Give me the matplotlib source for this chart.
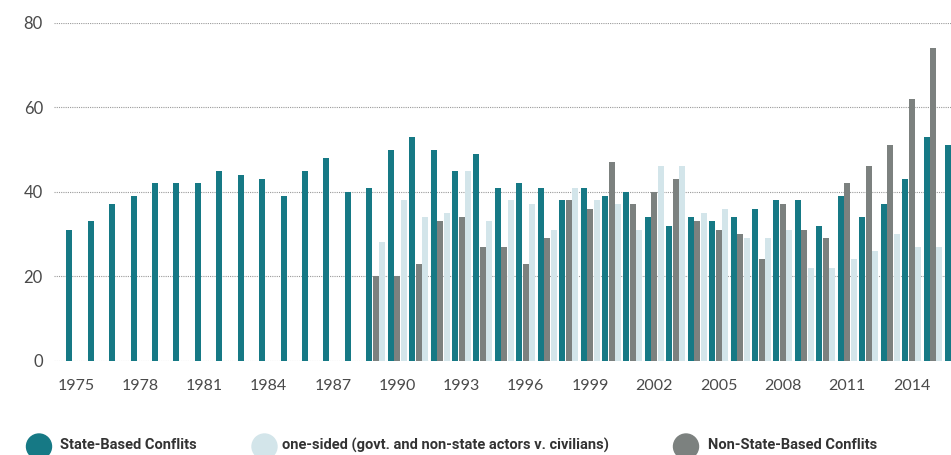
import numpy as np
import matplotlib
matplotlib.use("Agg")
import matplotlib.pyplot as plt
from matplotlib.patches import Ellipse

years = np.arange(1975, 2017)
state_based = [31, 33, 37, 39, 42, 42, 42, 45, 44, 43, 39, 45, 48, 40,
               41, 50, 53, 50, 45, 49, 41, 42, 41, 38, 41, 39, 40,
               34, 32, 34, 33, 34, 36, 38, 38, 32, 39, 34, 37, 43, 53, 51]
one_sided = [None] * 14 + [28, 38, 34, 35, 45, 33, 38, 37, 31, 41, 38, 37, 31,
                           46, 46, 35, 36, 29, 29, 31, 22, 22, 24, 26, 30, 27, 27,
                           None]
non_state = [None] * 14 + [20, 20, 23, 33, 34, 27, 27, 23, 29, 38, 36, 47, 37,
                           40, 43, 33, 31, 30, 24, 37, 31, 29, 42, 46, 51, 62, 74,
                           61]

labels = ["State-Based Conflits",
          "one-sided (govt. and non-state actors v. civilians)",
          "Non-State-Based Conflits"]
c_state = "#167985"
c_one = "#d3e5ea"
c_non = "#7c817f"

def clean(v):
    return np.array([np.nan if x is None else x for x in v], dtype=float)

plt.rcParams["font.family"] = ["Lato", "DejaVu Sans"]

fig = plt.figure(figsize=(9.51, 4.55), dpi=100)
ax = fig.add_axes([0.0568, 0.207, 0.9432, 0.743])

w = 0.28
step = 0.303
ax.bar(years - step, clean(state_based), w, color=c_state, zorder=3)
ax.bar(years, clean(non_state), w, color=c_non, zorder=3)
ax.bar(years + step, clean(one_sided), w, color=c_one, zorder=3)

ax.set_xlim(1973.983, 2015.84)
ax.set_ylim(0, 80)
ax.set_yticks([0, 20, 40, 60, 80])
ax.set_xticks(np.arange(1975, 2015, 3))
ax.grid(axis="y", color="#9a9a9a", linestyle=(0, (1, 1)), linewidth=0.8, zorder=0)
ax.grid(axis="x", visible=False)
for s in ax.spines.values():
    s.set_visible(False)
ax.tick_params(axis="y", length=0, pad=8, labelsize=12, labelcolor="#4a4a4a")
ax.tick_params(axis="x", length=0, pad=13, labelsize=11.5, labelcolor="#4a4a4a")

# legend along the bottom edge
ly = 1 - 446.5 / 455
ty = 1 - 445 / 455
for cx, tx, col, lab in [(39, 60, c_state, labels[0]),
                         (264.5, 282, c_one, labels[1]),
                         (686, 708, c_non, labels[2])]:
    fig.patches.append(Ellipse((cx / 951, ly), 25 / 951, 25 / 455,
                               transform=fig.transFigure, color=col))
    fig.text(tx / 951, ty, lab, ha="left", va="center", fontsize=10.5,
             color="#333333", family=["Roboto", "DejaVu Sans"], weight="bold")

fig.savefig("out.png", dpi=100)
